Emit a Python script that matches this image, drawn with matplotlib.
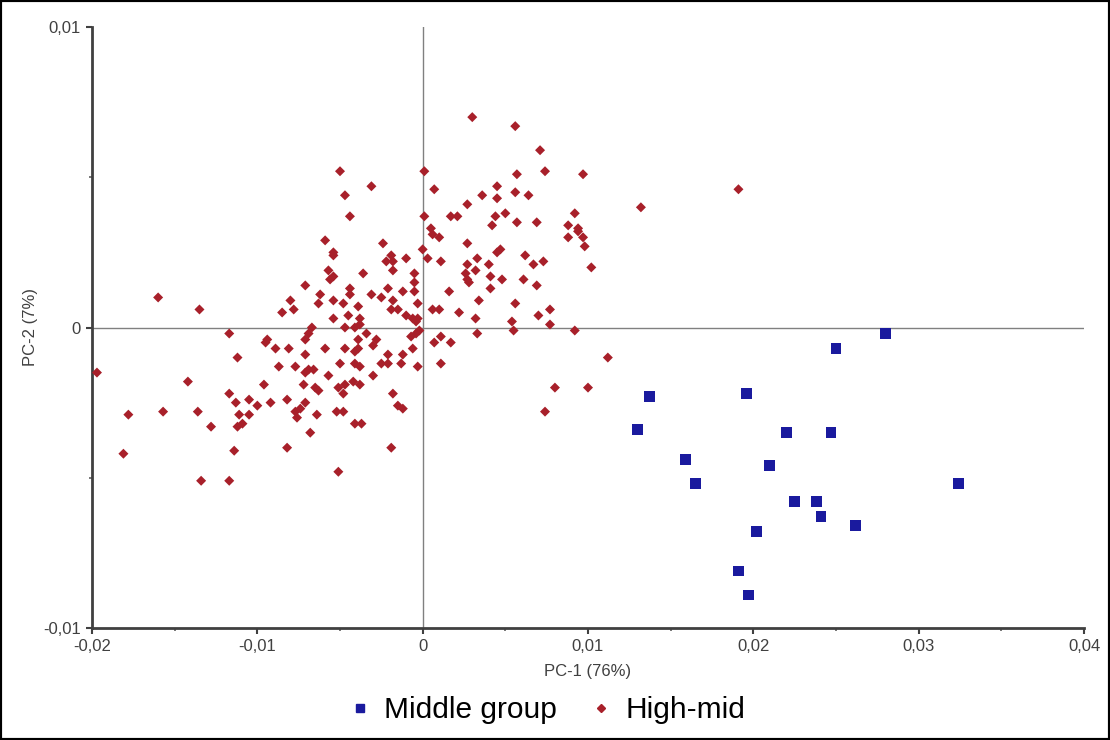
import matplotlib
matplotlib.use("Agg")
import matplotlib.pyplot as plt
from matplotlib.lines import Line2D
from matplotlib.patches import Rectangle
from matplotlib.ticker import FuncFormatter, MultipleLocator

plt.rcParams['font.family'] = ['Liberation Sans', 'DejaVu Sans']

# Middle group (blue squares)
mid_x = [0.0280, 0.0250, 0.0137, 0.0130, 0.0196, 0.0220, 0.0247, 0.0159, 0.0165,
         0.0210, 0.0225, 0.0238, 0.0241, 0.0262, 0.0324, 0.0202, 0.0191, 0.0197]
mid_y = [-0.0002, -0.0007, -0.0023, -0.0034, -0.0022, -0.0035, -0.0035, -0.0044, -0.0052,
         -0.0046, -0.0058, -0.0058, -0.0063, -0.0066, -0.0052, -0.0068, -0.0081, -0.0089]

# High-mid (red diamonds)
high_x = [0.0030, 0.0056, 0.0071, 0.0057, 0.0074, 0.0097, 0.0045, 0.0036, 0.0056, 0.0064,
          0.0045, 0.0027, 0.0050, 0.0017, 0.0021, 0.0044, 0.0042, 0.0057, 0.0069, 0.0092,
          0.0088, 0.0094, -0.0050, -0.0031, -0.0047, -0.0044, 0.0001, 0.0007, 0.0001, 0.0005,
          0.0191, 0.0132, 0.0027, 0.0045, 0.0047, 0.0062, 0.0067, 0.0073, 0.0102, 0.0088,
          0.0094, 0.0097, 0.0098, 0.0027, 0.0033, 0.0040, 0.0032, 0.0026, 0.0027, 0.0028,
          0.0041, 0.0048, 0.0061, 0.0069, 0.0041, 0.0016, 0.0034, 0.0056, 0.0022, 0.0032,
          0.0070, 0.0077, 0.0054, 0.0055, 0.0077, 0.0092, 0.0033, 0.0017, 0.0112, 0.0080,
          0.0100, 0.0074, -0.0160, -0.0135, -0.0117, -0.0112, -0.0095, -0.0197, -0.0142, -0.0117,
          -0.0113, -0.0105, -0.0100, -0.0111, -0.0105, -0.0112, -0.0109, -0.0178, -0.0157, -0.0136,
          -0.0128, -0.0181, -0.0114, -0.0134, -0.0117, -0.0096, -0.0087, -0.0077, -0.0069, -0.0066,
          -0.0071, -0.0072, -0.0057, -0.0050, -0.0041, -0.0038, -0.0025, -0.0021, -0.0013, -0.0003,
          0.0011, -0.0030, -0.0065, -0.0063, -0.0051, -0.0047, -0.0042, -0.0038, -0.0048, -0.0018,
          -0.0015, -0.0012, -0.0092, -0.0082, -0.0077, -0.0074, -0.0071, -0.0076, -0.0064, -0.0052,
          -0.0048, -0.0041, -0.0037, -0.0068, -0.0082, -0.0019, -0.0051, -0.0059, -0.0024, -0.0054,
          -0.0054, -0.0019, -0.0022, -0.0018, -0.0010, -0.0018, -0.0057, -0.0056, -0.0054, -0.0036,
          -0.0071, -0.0062, -0.0044, -0.0044, -0.0021, -0.0031, -0.0025, -0.0012, -0.0005, -0.0005,
          -0.0005, 0.0000, 0.0003, 0.0006, 0.0010, 0.0011, -0.0080, -0.0063, -0.0054, -0.0048,
          -0.0018, -0.0039, -0.0078, -0.0085, -0.0019, -0.0015, -0.0010, -0.0006, -0.0003, -0.0003,
          -0.0004, -0.0045, -0.0054, -0.0038, -0.0038, -0.0041, -0.0047, -0.0067, -0.0069, -0.0071,
          -0.0059, -0.0047, -0.0039, -0.0039, -0.0034, -0.0028, -0.0030, -0.0021, -0.0012, -0.0007,
          -0.0004, -0.0002, -0.0006, -0.0089, -0.0081, -0.0094, -0.0071, -0.0041, 0.0006, 0.0010,
          0.0007, 0.0011]
high_y = [0.0070, 0.0067, 0.0059, 0.0051, 0.0052, 0.0051, 0.0047, 0.0044, 0.0045, 0.0044,
          0.0043, 0.0041, 0.0038, 0.0037, 0.0037, 0.0037, 0.0034, 0.0035, 0.0035, 0.0038,
          0.0034, 0.0033, 0.0052, 0.0047, 0.0044, 0.0037, 0.0052, 0.0046, 0.0037, 0.0033,
          0.0046, 0.0040, 0.0028, 0.0025, 0.0026, 0.0024, 0.0021, 0.0022, 0.0020, 0.0030,
          0.0032, 0.0030, 0.0027, 0.0021, 0.0023, 0.0021, 0.0019, 0.0018, 0.0016, 0.0015,
          0.0017, 0.0016, 0.0016, 0.0014, 0.0013, 0.0012, 0.0009, 0.0008, 0.0005, 0.0003,
          0.0004, 0.0006, 0.0002, -0.0001, 0.0001, -0.0001, -0.0002, -0.0005, -0.0010, -0.0020,
          -0.0020, -0.0028, 0.0010, 0.0006, -0.0002, -0.0010, -0.0005, -0.0015, -0.0018, -0.0022,
          -0.0025, -0.0024, -0.0026, -0.0029, -0.0029, -0.0033, -0.0032, -0.0029, -0.0028, -0.0028,
          -0.0033, -0.0042, -0.0041, -0.0051, -0.0051, -0.0019, -0.0013, -0.0013, -0.0014, -0.0014,
          -0.0015, -0.0019, -0.0016, -0.0012, -0.0012, -0.0013, -0.0012, -0.0012, -0.0012, -0.0013,
          -0.0012, -0.0016, -0.0020, -0.0021, -0.0020, -0.0019, -0.0018, -0.0019, -0.0022, -0.0022,
          -0.0026, -0.0027, -0.0025, -0.0024, -0.0028, -0.0027, -0.0025, -0.0030, -0.0029, -0.0028,
          -0.0028, -0.0032, -0.0032, -0.0035, -0.0040, -0.0040, -0.0048, 0.0029, 0.0028, 0.0025,
          0.0024, 0.0024, 0.0022, 0.0022, 0.0023, 0.0019, 0.0019, 0.0016, 0.0017, 0.0018,
          0.0014, 0.0011, 0.0013, 0.0011, 0.0013, 0.0011, 0.0010, 0.0012, 0.0012, 0.0015,
          0.0018, 0.0026, 0.0023, 0.0031, 0.0030, 0.0022, 0.0009, 0.0008, 0.0009, 0.0008,
          0.0009, 0.0007, 0.0006, 0.0005, 0.0006, 0.0006, 0.0004, 0.0003, 0.0008, 0.0003,
          0.0002, 0.0004, 0.0003, 0.0003, 0.0001, 0.0000, 0.0000, 0.0000, -0.0002, -0.0004,
          -0.0007, -0.0007, -0.0007, -0.0004, -0.0002, -0.0004, -0.0006, -0.0009, -0.0009, -0.0003,
          -0.0002, -0.0001, -0.0007, -0.0007, -0.0007, -0.0004, -0.0009, -0.0008, 0.0006, 0.0006,
          -0.0005, -0.0003]

x_ticks = [-0.02, -0.01, 0.0, 0.01, 0.02, 0.03, 0.04]
y_ticks = [-0.01, 0.0, 0.01]
x_label = "PC-1 (76%)"
y_label = "PC-2 (7%)"
series_names = ["Middle group", "High-mid"]

BLUE = '#1a1a9e'
RED = '#a8202a'
TXT = '#404040'

fig = plt.figure(figsize=(11.10, 7.40), dpi=100)
ax = fig.add_axes([92/1110, 1 - 628/740, (1084 - 92)/1110, (628 - 27)/740])

ax.axhline(0, color='#808080', lw=1.0, zorder=1)
ax.axvline(0, color='#808080', lw=1.0, zorder=1)

ax.scatter(high_x, high_y, marker='D', s=26, color=RED, edgecolors='none', zorder=3)
ax.scatter(mid_x, mid_y, marker='s', s=60, color=BLUE, edgecolors='none', zorder=3)

ax.set_xlim(-0.02, 0.04)
ax.set_ylim(-0.01, 0.01)

def fmt(v, pos):
    if abs(v) < 1e-12:
        return "0"
    return ("%.2f" % v).replace('.', ',')

ax.set_xticks(x_ticks)
ax.set_yticks(y_ticks)
ax.xaxis.set_major_formatter(FuncFormatter(fmt))
ax.yaxis.set_major_formatter(FuncFormatter(fmt))
ax.xaxis.set_minor_locator(MultipleLocator(0.005))
ax.yaxis.set_minor_locator(MultipleLocator(0.005))
ax.tick_params(which='major', direction='out', length=4, width=1.5, color='#404040',
               labelsize=12, labelcolor=TXT, pad=4)
ax.tick_params(which='minor', direction='out', length=2, width=1.2, color='#606060')

for side in ['top', 'right']:
    ax.spines[side].set_visible(False)
for side in ['left', 'bottom']:
    ax.spines[side].set_color('#404040')
    ax.spines[side].set_linewidth(2.0)

ax.set_xlabel(x_label, fontsize=12, color=TXT, labelpad=7)
ax.set_ylabel(y_label, fontsize=12, color=TXT, labelpad=4)

handles = [
    Line2D([], [], marker='s', linestyle='none', color=BLUE, markersize=6),
    Line2D([], [], marker='D', linestyle='none', color=RED, markersize=4.5),
]
fig.legend(handles, series_names, loc='center', bbox_to_anchor=(0.491, 1 - 710/740),
           ncol=2, frameon=False, fontsize=21.5, handletextpad=0.3, columnspacing=1.0,
           handlelength=1.0, borderpad=0.1)

fig.patches.append(Rectangle((0, 0), 1, 1, transform=fig.transFigure, fill=False,
                             edgecolor='black', linewidth=3, zorder=10))

fig.savefig("out.png", dpi=100)
